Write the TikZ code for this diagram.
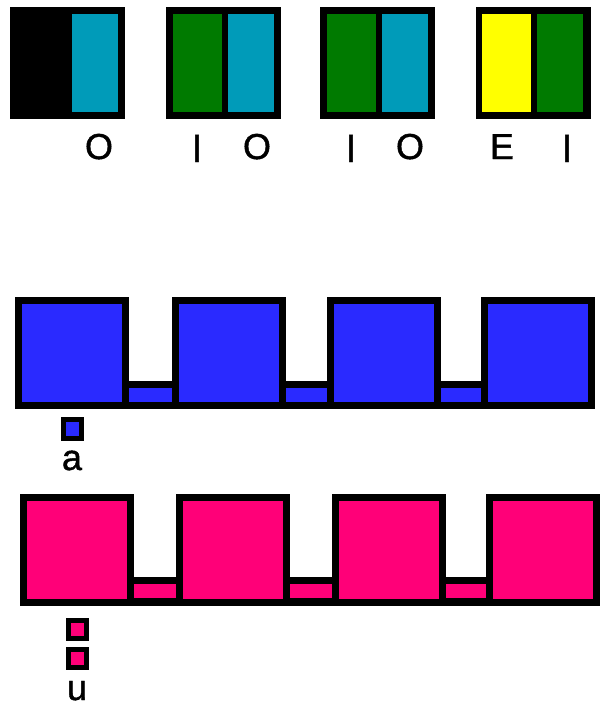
\documentclass[tikz,border=0pt]{standalone}
\usepackage{fontspec}
\setmainfont{Liberation Sans}[FakeBold=1.2]
\definecolor{cyanc}{RGB}{0,155,185}
\definecolor{greenc}{RGB}{0,122,0}
\definecolor{yellowc}{RGB}{255,255,0}
\definecolor{bluec}{RGB}{42,42,255}
\definecolor{pinkc}{RGB}{255,0,120}
\tikzset{
  blk/.style={rectangle, inner sep=0pt, outer sep=0pt, anchor=north west, fill=black, draw=none},
  lab/.style={font=\fontsize{36}{36}\selectfont, anchor=base, inner sep=0pt},
}
\begin{document}
\begin{tikzpicture}[x=1pt,y=-1pt]
\useasboundingbox (0,0) rectangle (606,707);
% ---------- top row ----------
\node[blk, minimum width=115pt, minimum height=112pt] (t1) at (10,7) {};
\node[blk, fill=cyanc, minimum width=46pt, minimum height=98pt] (t1r) at (72,14) {};
\node[blk, minimum width=115pt, minimum height=112pt] (t2) at (166,7) {};
\node[blk, fill=greenc, minimum width=49pt, minimum height=98pt] (t2l) at (173,14) {};
\node[blk, fill=cyanc, minimum width=46pt, minimum height=98pt] (t2r) at (228,14) {};
\node[blk, minimum width=115pt, minimum height=112pt] (t3) at (320,7) {};
\node[blk, fill=greenc, minimum width=49pt, minimum height=98pt] (t3l) at (327,14) {};
\node[blk, fill=cyanc, minimum width=46pt, minimum height=98pt] (t3r) at (382,14) {};
\node[blk, minimum width=115pt, minimum height=112pt] (t4) at (476,7) {};
\node[blk, fill=yellowc, minimum width=49pt, minimum height=98pt] (t4l) at (482,14) {};
\node[blk, fill=greenc, minimum width=46pt, minimum height=98pt] (t4r) at (537,14) {};
\node[lab] (l1) at (99,159) {O};
\node[lab] (l2) at (197,162) {\scalebox{1}[1.1]{I}};
\node[lab] (l3) at (257,159) {O};
\node[lab] (l4) at (351,162) {\scalebox{1}[1.1]{I}};
\node[lab] (l5) at (410,159) {O};
\node[lab] (l6) at (502,159) {E};
\node[lab] (l7) at (567,162) {\scalebox{1}[1.1]{I}};
% ---------- blue row ----------
\foreach \n/\x/\w in {1/15/114, 2/172/114, 3/327/114, 4/481/114}{
  \node[blk, minimum width=\w pt, minimum height=112pt] (bb\n) at (\x,297) {};
  \node[blk, fill=bluec, minimum width=\w pt-14pt, minimum height=98pt] (bi\n) at (\x+7,304) {};
}
\foreach \n/\x/\w in {1/129/43, 2/286/41, 3/441/40}{
  \node[blk, minimum width=\w pt, minimum height=28pt] (bk\n) at (\x,381) {};
  \node[blk, fill=bluec, minimum width=\w pt, minimum height=14pt] (bki\n) at (\x,388) {};
}
\node[blk, minimum width=23pt, minimum height=24pt] (la) at (61,417) {};
\node[blk, fill=bluec, minimum width=13pt, minimum height=14pt] (lai) at (66,422) {};
\node[lab] (ta) at (72,470) {a};
% ---------- pink row ----------
\foreach \n/\x/\w in {1/20/114, 2/176/114, 3/332/114, 4/486/114}{
  \node[blk, minimum width=\w pt, minimum height=112pt] (pb\n) at (\x,494) {};
  \node[blk, fill=pinkc, minimum width=\w pt-14pt, minimum height=98pt] (pi\n) at (\x+7,501) {};
}
\foreach \n/\x/\w in {1/134/42, 2/290/42, 3/446/40}{
  \node[blk, minimum width=\w pt, minimum height=29pt] (pk\n) at (\x,577) {};
  \node[blk, fill=pinkc, minimum width=\w pt, minimum height=14pt] (pki\n) at (\x,584) {};
}
\node[blk, minimum width=23pt, minimum height=23pt] (lu1) at (66,618) {};
\node[blk, fill=pinkc, minimum width=13pt, minimum height=13pt] (lu1i) at (71,623) {};
\node[blk, minimum width=23pt, minimum height=23pt] (lu2) at (66,647) {};
\node[blk, fill=pinkc, minimum width=13pt, minimum height=13pt] (lu2i) at (71,652) {};
\node[lab] (tu) at (77,700) {u};
\end{tikzpicture}
\end{document}
